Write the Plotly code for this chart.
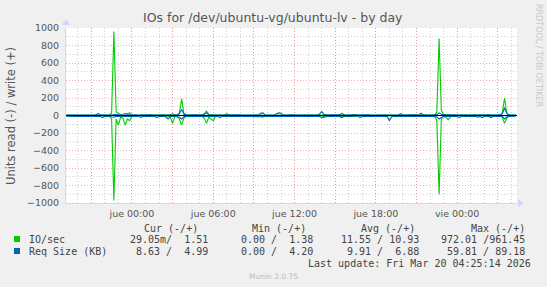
import pandas as pd
import plotly.graph_objects as go

# ---------------- data (10-minute samples) ----------------
start_time = "2026-03-18 19:10"
n_samples = 200

io_write = [
    2, 3, 2, 4, 3, 2, 3, 5, 3, 2, 3, 2, 4, 3, 8, 5, 3, 4, 3, 6,
    30, 961, 40, 20, 10, 15, 25, 20, 30, 8, 5, 4, 3, 5, 4, 3, 6, 4, 3, 4,
    3, 4, 5, 3, 4, 6, 8, 20, 5, 4, 30, 190, 25, 8, 5, 4, 3, 5, 4, 3,
    6, 20, 50, 15, 5, 8, 4, 3, 5, 4, 6, 20, 5, 4, 3, 4, 3, 5, 4, 3,
    3, 4, 3, 5, 4, 3, 4, 5, 8, 4, 3, 4, 3, 5, 4, 3, 4, 3, 5, 4,
    3, 4, 3, 5, 4, 3, 4, 5, 3, 4, 3, 4, 6, 8, 4, 3, 4, 3, 5, 4,
    3, 5, 8, 4, 3, 5, 4, 6, 12, 4, 3, 4, 3, 5, 4, 3, 4, 3, 5, 4,
    3, 4, 5, 3, 4, 3, 5, 4, 3, 4, 5, 3, 4, 3, 5, 4, 3, 6, 4, 3,
    4, 3, 5, 4, 40, 880, 60, 10, 8, 5, 4, 3, 5, 4, 3, 6, 4, 3, 5, 4,
    3, 4, 5, 3, 6, 4, 3, 5, 8, 4, 3, 4, 5, 30, 200, 20, 5, 4, 3, 1.51,
]
io_read = [
    3, 2, 4, 3, 2, 5, 3, 2, 4, 3, 2, 3, 5, 3, 10, 4, 6, 3, 4, 5,
    40, 972, 40, 110, 20, 30, 110, 40, 60, 10, 10, 5, 4, 6, 3, 5, 4, 6, 3, 4,
    4, 5, 6, 3, 5, 8, 20, 90, 10, 5, 40, 110, 30, 8, 5, 4, 6, 3, 5, 4,
    10, 30, 90, 20, 40, 60, 10, 5, 4, 6, 5, 8, 4, 3, 5, 4, 6, 3, 4, 5,
    4, 5, 3, 6, 4, 5, 10, 15, 6, 4, 5, 3, 4, 6, 4, 5, 3, 4, 6, 4,
    4, 5, 3, 6, 4, 5, 3, 4, 6, 4, 5, 3, 4, 6, 10, 5, 3, 4, 6, 4,
    5, 8, 15, 6, 4, 5, 3, 4, 6, 4, 5, 3, 4, 6, 4, 5, 3, 4, 6, 4,
    4, 5, 3, 6, 4, 5, 3, 4, 6, 4, 5, 3, 4, 6, 4, 5, 3, 4, 6, 4,
    4, 5, 3, 6, 60, 900, 40, 10, 20, 50, 15, 5, 4, 6, 4, 5, 3, 4, 6, 4,
    4, 5, 3, 6, 4, 5, 3, 4, 12, 4, 5, 3, 4, 20, 90, 30, 8, 4, 6, 0.03,
]
req_write = [
    5, 6, 5, 7, 5, 6, 8, 5, 6, 5, 6, 5, 7, 6, 25, 8, 6, 5, 7, 6,
    6, 10, 8, 6, 5, 7, 6, 8, 6, 5, 7, 6, 5, 6, 8, 6, 5, 7, 6, 5,
    6, 5, 7, 6, 5, 8, 6, 5, 7, 6, 20, 70, 15, 6, 5, 7, 6, 5, 6, 7,
    6, 12, 30, 8, 6, 5, 7, 6, 5, 6, 7, 6, 5, 6, 8, 6, 5, 7, 6, 5,
    6, 5, 7, 6, 5, 6, 25, 30, 8, 6, 5, 7, 6, 20, 30, 25, 6, 5, 7, 6,
    5, 7, 6, 5, 6, 8, 6, 5, 7, 6, 5, 6, 15, 45, 15, 6, 5, 7, 6, 5,
    6, 8, 25, 8, 5, 6, 7, 5, 6, 5, 7, 6, 5, 6, 8, 6, 5, 7, 6, 5,
    6, 5, 7, 6, 5, 6, 8, 6, 20, 6, 5, 7, 6, 5, 6, 8, 5, 25, 6, 5,
    7, 6, 5, 6, 10, 30, 15, 6, 5, 7, 6, 5, 6, 8, 6, 5, 7, 6, 5, 6,
    7, 6, 5, 6, 8, 6, 5, 7, 6, 5, 6, 5, 7, 20, 89, 25, 6, 5, 7, 4.99,
]
req_read = [
    8, 10, 9, 12, 10, 8, 11, 9, 10, 12, 9, 10, 8, 11, 15, 10, 25, 9, 11, 10,
    15, 20, 10, 12, 10, 9, 11, 10, 12, 9, 10, 8, 11, 20, 10, 9, 12, 10, 8, 11,
    25, 10, 9, 12, 15, 40, 10, 9, 11, 10, 20, 40, 15, 10, 9, 12, 10, 8, 11, 9,
    10, 9, 12, 10, 8, 11, 9, 10, 25, 10, 9, 12, 10, 8, 11, 9, 10, 12, 9, 10,
    8, 11, 9, 10, 12, 9, 10, 15, 9, 11, 10, 8, 11, 9, 10, 12, 9, 10, 8, 11,
    9, 10, 12, 9, 10, 8, 11, 9, 10, 12, 9, 10, 8, 25, 20, 10, 9, 11, 10, 8,
    11, 15, 25, 10, 12, 9, 10, 8, 11, 9, 22, 10, 8, 11, 9, 10, 12, 9, 10, 8,
    11, 9, 10, 60, 15, 9, 11, 10, 8, 12, 9, 10, 11, 9, 10, 8, 11, 9, 10, 12,
    9, 10, 8, 11, 15, 40, 25, 10, 9, 11, 10, 8, 12, 9, 25, 10, 9, 11, 10, 8,
    11, 9, 20, 10, 25, 9, 11, 10, 25, 9, 10, 8, 11, 9, 40, 15, 10, 9, 11, 8.63,
]

x_range = ["2026-03-18 19:08", "2026-03-20 04:25"]
tick_vals = ["2026-03-18 21:00", "2026-03-19 00:00", "2026-03-19 03:00", "2026-03-19 06:00",
             "2026-03-19 09:00", "2026-03-19 12:00", "2026-03-19 15:00", "2026-03-19 18:00",
             "2026-03-19 21:00", "2026-03-20 00:00", "2026-03-20 03:00"]
tick_text = ["", "jue 00:00", "", "jue 06:00", "", "jue 12:00", "", "jue 18:00", "", "vie 00:00", ""]

series_names = ["IO/sec", "Req Size (KB)"]
series_colors = ["#00CC00", "#0066B3"]
headers = ["Cur (-/+)", "Min (-/+)", "Avg (-/+)", "Max (-/+)"]
stats_io = ["29.05m/  1.51", "0.00 /  1.38", "11.55 / 10.93", "972.01 /961.45"]
stats_req = ["8.63 /  4.99", "0.00 /  4.20", "9.91 /  6.88", "59.81 / 89.18"]

title_text = "IOs for /dev/ubuntu-vg/ubuntu-lv - by day"
y_title = "Units read (-) / write (+)"
last_update = "Last update: Fri Mar 20 04:25:14 2026"
footer = "Munin 2.0.75"
side_text = "RRDTOOL / TOBI OETIKER"

# ---------------- figure ----------------
W, H = 547, 287
L, R, T, B = 66, 30, 28, 84
PW, PH = W - L - R, H - T - B

def px(xp):
    return (xp - L) / PW

def py(yp):
    return (H - B - yp) / PH

times = pd.date_range(start_time, periods=n_samples, freq="10min")

fig = go.Figure()
fig.add_trace(go.Scatter(x=times, y=[-v for v in io_read], mode="lines",
                         line=dict(color=series_colors[0], width=1.1), hoverinfo="skip"))
fig.add_trace(go.Scatter(x=times, y=io_write, mode="lines",
                         line=dict(color=series_colors[0], width=1.1), hoverinfo="skip"))
fig.add_trace(go.Scatter(x=times, y=[-v for v in req_read], mode="lines",
                         line=dict(color=series_colors[1], width=1.1), hoverinfo="skip"))
fig.add_trace(go.Scatter(x=times, y=req_write, mode="lines",
                         line=dict(color=series_colors[1], width=1.1), hoverinfo="skip"))

font_sans = "DejaVu Sans"
font_mono = "DejaVu Sans Mono"
txt = "#555555"
major = "rgba(235,110,110,0.55)"
minor = "rgba(170,170,170,0.55)"
axis_col = "#CFD6F8"

fig.update_layout(
    width=W, height=H, margin=dict(l=L, r=R, t=T, b=B),
    paper_bgcolor="#F0F0F0", plot_bgcolor="#FFFFFF", showlegend=False,
    font=dict(family=font_sans, color=txt, size=10),
)
fig.update_xaxes(
    range=x_range, tickmode="array", tickvals=tick_vals, ticktext=tick_text,
    showgrid=True, gridcolor=major, griddash="1px,2px", gridwidth=1,
    minor=dict(dtick=3600000, tick0="2026-03-19 00:00", showgrid=True,
               gridcolor=minor, griddash="1px,2px", gridwidth=1),
    showline=True, linecolor=axis_col, linewidth=1, ticks="", zeroline=False,
    tickfont=dict(family=font_sans, size=9.5, color=txt), ticklabelstandoff=2,
)
fig.update_yaxes(
    range=[-1000, 1000], tickmode="linear", tick0=0, dtick=200,
    showgrid=True, gridcolor=major, griddash="1px,2px", gridwidth=1,
    minor=dict(dtick=100, tick0=0, showgrid=True, gridcolor=minor,
               griddash="1px,2px", gridwidth=1),
    showline=True, linecolor=axis_col, linewidth=1, ticks="", zeroline=False,
    tickfont=dict(family=font_sans, size=9.5, color=txt), ticklabelstandoff=4,
)

shapes = [
    dict(type="line", xref="paper", yref="y", x0=0, x1=1, y0=0, y1=0,
         line=dict(color="#000000", width=1), layer="above"),
    # axis arrows
    dict(type="path", xref="paper", yref="paper",
         path=f"M {px(62)} {py(25)} L {px(70)} {py(25)} L {px(66)} {py(19)} Z",
         fillcolor=axis_col, line=dict(width=0)),
    dict(type="path", xref="paper", yref="paper",
         path=f"M {px(518)} {py(199)} L {px(518)} {py(207)} L {px(524)} {py(203)} Z",
         fillcolor=axis_col, line=dict(width=0)),
    # legend squares
    dict(type="rect", xref="paper", yref="paper", x0=px(14), x1=px(20),
         y0=py(242), y1=py(236), fillcolor=series_colors[0], line=dict(width=0)),
    dict(type="rect", xref="paper", yref="paper", x0=px(14), x1=px(20),
         y0=py(254), y1=py(248), fillcolor=series_colors[1], line=dict(width=0)),
]
fig.update_layout(shapes=shapes)

ann = []
def add(text, x, y, xanchor="left", size=10, family=font_mono, color="#444444", angle=0):
    ann.append(dict(text=text, xref="paper", yref="paper", x=px(x), y=py(y),
                    xanchor=xanchor, yanchor="middle", showarrow=False, textangle=angle,
                    font=dict(family=family, size=size, color=color)))

add(title_text, 273, 18, xanchor="center", size=12.5, family=font_sans, color="#555555")
add(y_title, 11, 116, xanchor="center", size=11.5, family=font_sans, color="#555555", angle=-90)
add(side_text, 538, 55, xanchor="center", size=8, family=font_sans, color="#C8C8C8", angle=90)

header_ends = [199.5, 308, 417, 526.5]
value_ends = [209.5, 315, 421, 527]
for h, xe in zip(headers, header_ends):
    add(h, xe, 228, xanchor="right")
add(series_names[0], 27, 239)
add(series_names[1], 27, 251)
for s, xe in zip(stats_io, value_ends):
    add(s, xe, 239, xanchor="right")
for s, xe in zip(stats_req, value_ends):
    add(s, xe, 251, xanchor="right")
add(last_update, 533, 263.5, xanchor="right")
add(footer, 273, 276, xanchor="center", size=7.5, family=font_sans, color="#BBBBBB")
fig.update_layout(annotations=ann)

fig.write_html("out.html", config={"displayModeBar": False})
